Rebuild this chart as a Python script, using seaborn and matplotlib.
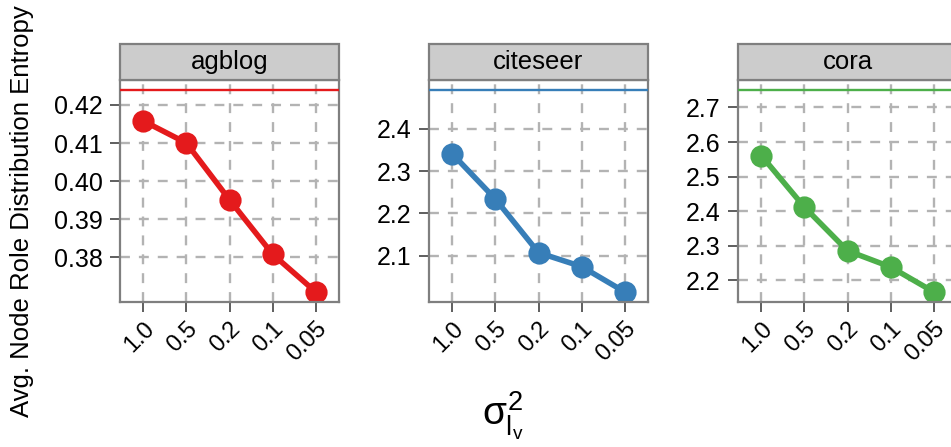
import matplotlib
matplotlib.use("Agg")
import matplotlib.pyplot as plt
from matplotlib.patches import Rectangle
import seaborn as sns

# Variance settings on the x axis (categorical, in plotting order)
sigma_levels = ["1.0", "0.5", "0.2", "0.1", "0.05"]

datasets = ["agblog", "citeseer", "cora"]

# Average node-role distribution entropy per dataset
entropy_agblog = [0.4158, 0.4100, 0.3951, 0.3808, 0.3709]
entropy_citeseer = [2.341, 2.234, 2.107, 2.074, 2.014]
entropy_cora = [2.561, 2.412, 2.286, 2.239, 2.167]

# Reference (baseline) entropy per dataset, drawn as a horizontal line
baseline_entropy = [0.4239, 2.492, 2.750]

# Y tick values per panel
yticks_agblog = [0.38, 0.39, 0.40, 0.41, 0.42]
yticks_citeseer = [2.1, 2.2, 2.3, 2.4]
yticks_cora = [2.2, 2.3, 2.4, 2.5, 2.6, 2.7]

series = [entropy_agblog, entropy_citeseer, entropy_cora]
yticks = [yticks_agblog, yticks_citeseer, yticks_cora]
tick_fmt = ["{:.2f}", "{:.1f}", "{:.1f}"]
colors = ["#E41A1C", "#377EB8", "#4DAF4A"]

sns.set_theme(style="white")
plt.rcParams["font.family"] = ["Liberation Sans", "DejaVu Sans"]
plt.rcParams["mathtext.fontset"] = "custom"
plt.rcParams["mathtext.rm"] = "Liberation Sans"
plt.rcParams["mathtext.it"] = "Liberation Sans"
plt.rcParams["mathtext.sf"] = "Liberation Sans"

W, H = 951, 447
fig, axes = plt.subplots(1, 3, figsize=(W / 100, H / 100), dpi=100)

border = "#7F7F7F"
panel_px = dict(w=219, top=80, bottom=302)
lefts_px = [120, 429, 738]
strip_px = 36

for ax, name, vals, ref, ticks, fmt, col, lpx in zip(
        axes, datasets, series, baseline_entropy, yticks, tick_fmt, colors, lefts_px):
    sns.pointplot(x=sigma_levels, y=vals, order=sigma_levels, color=col,
                  errorbar=None, markersize=13, linewidth=4.0, ax=ax)
    ax.axhline(ref, color=col, lw=1.7, zorder=3)

    lo = min(min(vals), ref)
    hi = max(max(vals), ref)
    pad = (hi - lo) * 0.05
    ax.set_ylim(lo - pad, hi + pad)
    ax.set_xlim(-0.54, 4.54)

    ax.set_yticks(ticks)
    ax.set_yticklabels([fmt.format(t) for t in ticks])
    ax.set_xticks(range(len(sigma_levels)))
    ax.set_xticklabels(sigma_levels, rotation=45, ha="right", va="top",
                       rotation_mode="anchor", fontsize=17)

    ax.set_axisbelow(True)
    ax.grid(True, color="#B3B3B3", linestyle=(0, (4.2, 3.8)), lw=1.7)
    for s in ax.spines.values():
        s.set_color(border)
        s.set_linewidth(1.6)
        s.set_visible(True)
    ax.tick_params(axis="both", which="major", length=7.5, width=1.1,
                   color="#333333", labelcolor="black", direction="out",
                   left=True, bottom=True)
    ax.tick_params(axis="y", labelsize=18, pad=5)
    ax.tick_params(axis="x", pad=4)
    ax.set_xlabel("")
    ax.set_ylabel("")

    ph = panel_px["bottom"] - panel_px["top"]
    ax.set_position([lpx / W, 1 - panel_px["bottom"] / H,
                     panel_px["w"] / W, ph / H])

    # facet strip above the panel
    sh = strip_px / ph
    ax.add_patch(Rectangle((0, 1), 1, sh, transform=ax.transAxes,
                           facecolor="#CCCCCC", edgecolor=border, lw=1.6,
                           clip_on=False, zorder=5))
    ax.text(0.5, 1 + sh / 2, name, transform=ax.transAxes, ha="center",
            va="center", fontsize=18.5, color="black", zorder=6)

fig.text(22 / W, 1 - 211 / H, "Avg. Node Role Distribution Entropy",
         rotation=90, ha="center", va="center", fontsize=18.5, color="black")
fig.text(503 / W, 1 - 416 / H, r"$\sigma^2_{l_v}$", ha="center",
         va="center", fontsize=28, color="black")

fig.savefig("out.png", dpi=100)
